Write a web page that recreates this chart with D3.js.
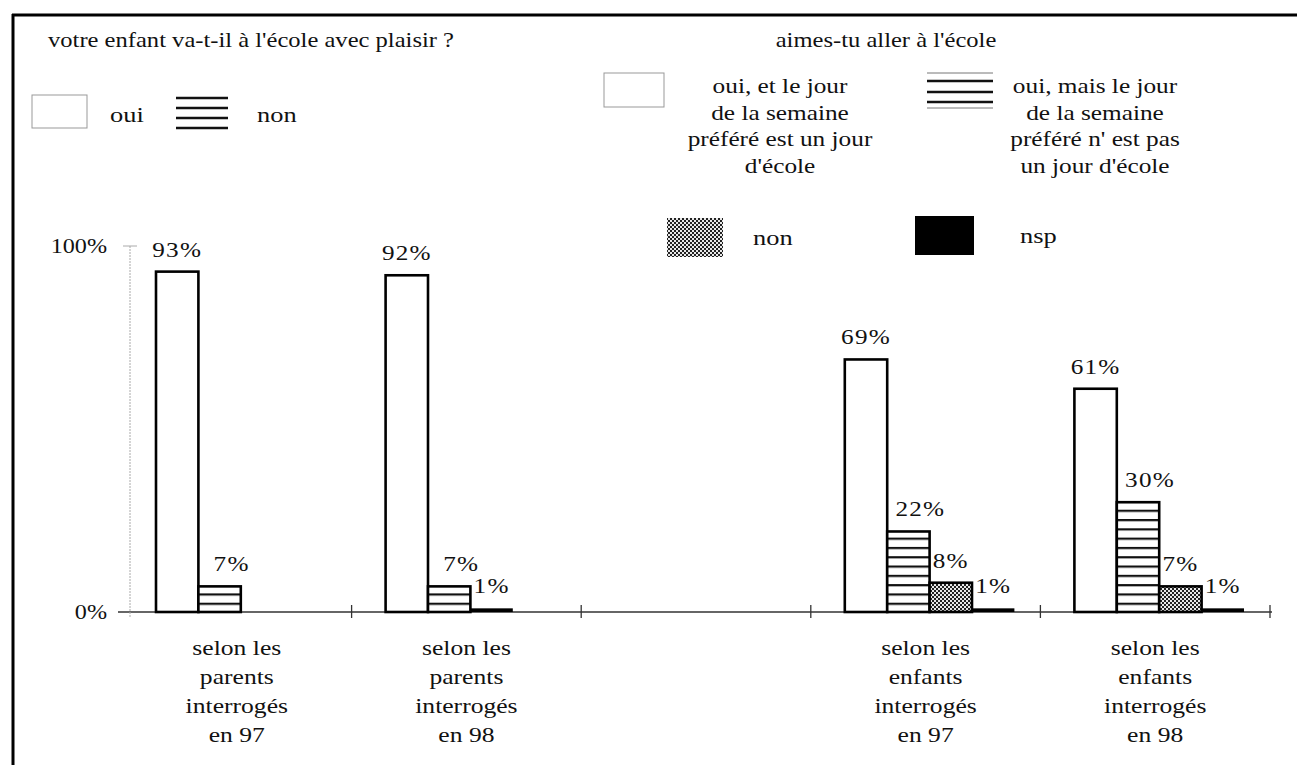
<!DOCTYPE html>
<html><head><meta charset="utf-8">
<script src="https://cdn.jsdelivr.net/npm/d3@7"></script>
<style>html,body{margin:0;padding:0;background:#fff;}svg{display:block;}</style>
</head><body>
<svg id="chart" width="1297" height="765"></svg>
<script>
// ---- data ----
const categories = ["parents97", "parents98", "vide", "enfants97", "enfants98"];
const categoryLabels = [
  ["selon les", "parents", "interrogés", "en 97"],
  ["selon les", "parents", "interrogés", "en 98"],
  [],
  ["selon les", "enfants", "interrogés", "en 97"],
  ["selon les", "enfants", "interrogés", "en 98"]
];
const ouiValues     = [93, 92, null, 69, 61];
const stripedValues = [7, 7, null, 22, 30];
const dottedValues  = [null, null, null, 8, 7];
const nspValues     = [null, 1, null, 1, 1];
const yTickValues = [0, 100];
const yTickLabels = ["0%", "100%"];
const leftTitle = "votre enfant va-t-il à l'école avec plaisir ?";
const rightTitle = "aimes-tu aller à l'école";
const legendOuiParents = "oui";
const legendNonParents = "non";
const legendOuiEcole = ["oui, et le jour", "de la semaine", "préféré est un jour", "d'école"];
const legendOuiMais = ["oui, mais le jour", "de la semaine", "préféré n' est pas", "un jour d'école"];
const legendNonEnfants = "non";
const legendNsp = "nsp";

// ---- setup ----
const svg = d3.select("#chart");
const SX = 1.2;
const FONT = "Liberation Serif, Tinos, Times New Roman, DejaVu Serif, serif";

function txt(g, x, y, s, size, anchor, sx) {
  return g.append("text")
    .attr("transform", `translate(${x},${y}) scale(${sx || SX},1)`)
    .style("font-family", FONT)
    .style("font-size", size + "px")
    .attr("text-anchor", anchor || "start")
    .attr("fill", "#111")
    .text(s);
}

const defs = svg.append("defs");
const baseY = 612;
const stripe = defs.append("pattern").attr("id", "stripes")
  .attr("patternUnits", "userSpaceOnUse").attr("width", 10).attr("height", 9.3)
  .attr("y", baseY);
stripe.append("rect").attr("width", 10).attr("height", 9.3).attr("fill", "#fff");
stripe.append("rect").attr("y", 0).attr("width", 10).attr("height", 2.2).attr("fill", "#111");
const dots = defs.append("pattern").attr("id", "dots")
  .attr("patternUnits", "userSpaceOnUse").attr("width", 4).attr("height", 4);
dots.append("rect").attr("width", 4).attr("height", 4).attr("fill", "#e8e8e8");
dots.append("rect").attr("x", 0).attr("y", 0).attr("width", 2).attr("height", 2).attr("fill", "#222");
dots.append("rect").attr("x", 2).attr("y", 2).attr("width", 2).attr("height", 2).attr("fill", "#222");

// frame
svg.append("line").attr("x1", 13).attr("x2", 13).attr("y1", 14).attr("y2", 765)
  .attr("stroke", "#000").attr("stroke-width", 3);
svg.append("line").attr("x1", 12).attr("x2", 1297).attr("y1", 15).attr("y2", 15)
  .attr("stroke", "#000").attr("stroke-width", 3);

// scales
const x = d3.scaleBand().domain(categories).range([122, 1270]);
const xSub = d3.scaleBand().domain([0, 1, 2, 3]).range([34, x.bandwidth() - 26]);
const y = d3.scaleLinear().domain([0, 100]).range([baseY, 246]);

// axes
const axisG = svg.append("g");
axisG.append("line").attr("x1", 118).attr("x2", 1272).attr("y1", y(0)).attr("y2", y(0))
  .attr("stroke", "#333").attr("stroke-width", 1.5);
const boundaries = categories.map(c => x(c)).slice(1).concat([x.range()[1]]);
axisG.selectAll(".xt").data(boundaries).join("line")
  .attr("x1", d => d).attr("x2", d => d).attr("y1", y(0) - 7).attr("y2", y(0) + 6)
  .attr("stroke", "#333").attr("stroke-width", 1.3);
axisG.append("line").attr("x1", 130).attr("x2", 130).attr("y1", y(100)).attr("y2", y(0) + 5)
  .attr("stroke", "#aaa").attr("stroke-width", 1).attr("stroke-dasharray", "2,1");
axisG.append("line").attr("x1", 123).attr("x2", 137).attr("y1", y(100)).attr("y2", y(100))
  .attr("stroke", "#aaa").attr("stroke-width", 1);
yTickValues.forEach((v, i) => {
  txt(axisG, 107, y(v) + 7, yTickLabels[i], 21, "end", 1.15);
});

// bars
const series = [
  { key: "oui", values: ouiValues, fill: "#fff" },
  { key: "striped", values: stripedValues, fill: "url(#stripes)" },
  { key: "dotted", values: dottedValues, fill: "url(#dots)" },
  { key: "nsp", values: nspValues, fill: "#000" }
];
const bars = [];
categories.forEach((c, ci) => {
  let k = 0;
  series.forEach(s => {
    const v = s.values[ci];
    if (v == null) return;
    bars.push({ cat: c, idx: k, value: v, fill: s.fill, key: s.key });
    k++;
  });
});
const barG = svg.append("g");
barG.selectAll("rect").data(bars).join("rect")
  .attr("x", d => x(d.cat) + xSub(d.idx))
  .attr("width", xSub.bandwidth())
  .attr("y", d => y(d.value))
  .attr("height", d => y(0) - y(d.value))
  .attr("fill", d => d.fill)
  .attr("stroke", "#000")
  .attr("stroke-width", d => d.key === "nsp" ? 0 : 2.6);
bars.forEach(d => {
  const shift = d.key === "striped" ? 12 : 0;
  txt(barG, x(d.cat) + xSub(d.idx) + xSub.bandwidth() / 2 + shift, y(d.value) - 15,
      d.value + "%", 21, "middle", 1.2).attr("letter-spacing", 1);
});

// category labels
const labG = svg.append("g");
categories.forEach((c, ci) => {
  categoryLabels[ci].forEach((line, li) => {
    txt(labG, x(c) + x.bandwidth() / 2, 655 + li * 29, line, 21, "middle", 1.22);
  });
});

// legends
const lg = svg.append("g");
txt(lg, 48, 47, leftTitle, 21, "start", 1.17);
lg.append("rect").attr("x", 32).attr("y", 95).attr("width", 55).attr("height", 33)
  .attr("fill", "#fff").attr("stroke", "#999").attr("stroke-width", 1);
txt(lg, 110, 122, legendOuiParents, 22, "start");
[98, 108, 118, 128].forEach(yy => lg.append("line").attr("x1", 176).attr("x2", 228)
  .attr("y1", yy).attr("y2", yy).attr("stroke", "#111").attr("stroke-width", 2.5));
txt(lg, 257, 122, legendNonParents, 22, "start");

txt(lg, 886, 47, rightTitle, 21, "middle", 1.17);
lg.append("rect").attr("x", 604).attr("y", 73).attr("width", 60).attr("height", 34)
  .attr("fill", "#fff").attr("stroke", "#999").attr("stroke-width", 1);
legendOuiEcole.forEach((l, i) => txt(lg, 780, 93 + i * 26.5, l, 22, "middle", 1.15));
[73, 108].forEach(yy => lg.append("line").attr("x1", 927).attr("x2", 993)
  .attr("y1", yy).attr("y2", yy).attr("stroke", "#777").attr("stroke-width", 1));
[81, 92, 102].forEach(yy => lg.append("line").attr("x1", 927).attr("x2", 993)
  .attr("y1", yy).attr("y2", yy).attr("stroke", "#111").attr("stroke-width", 2.5));
legendOuiMais.forEach((l, i) => txt(lg, 1095, 93 + i * 26.5, l, 22, "middle", 1.15));
lg.append("rect").attr("x", 667).attr("y", 218).attr("width", 56).attr("height", 39)
  .attr("fill", "url(#dots)");
txt(lg, 753, 245, legendNonEnfants, 22, "start");
lg.append("rect").attr("x", 915).attr("y", 216).attr("width", 59).attr("height", 39)
  .attr("fill", "#000");
txt(lg, 1020, 243, legendNsp, 22, "start");
</script>
</body></html>
